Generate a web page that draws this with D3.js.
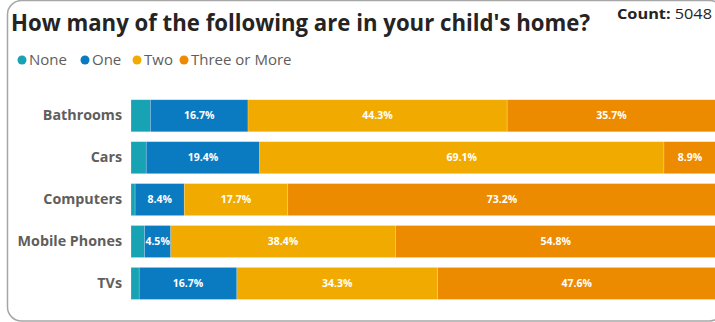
<!DOCTYPE html>
<html>
<head>
<meta charset="utf-8">
<script src="https://cdn.jsdelivr.net/npm/d3@7"></script>
<style>
  body { margin: 0; background: #fff; }
  text { font-family: "Open Sans", "Noto Sans", sans-serif; }
</style>
</head>
<body>
<div id="plot"></div>
<script>
// chart data (percent of respondents)
const categories = ["Bathrooms", "Cars", "Computers", "Mobile Phones", "TVs"];
const seriesNames = ["None", "One", "Two", "Three or More"];
const none = [3.3, 2.6, 0.7, 2.3, 1.4];
const one = [16.7, 19.4, 8.4, 4.5, 16.7];
const two = [44.3, 69.1, 17.7, 38.4, 34.3];
const threeOrMore = [35.7, 8.9, 73.2, 54.8, 47.6];
const count = 5048;

const width = 715, height = 322;

const color = d3.scaleOrdinal()
  .domain(seriesNames)
  .range(["#17A3B4", "#0B7BC1", "#F1AB00", "#EC8B00"]);

const svg = d3.select("#plot")
  .append("svg")
    .attr("width", width)
    .attr("height", height);

// card border
svg.append("rect")
  .attr("x", 7.5).attr("y", 0.5)
  .attr("width", 716).attr("height", 320.5)
  .attr("rx", 14)
  .attr("fill", "none")
  .attr("stroke", "#a6a6a6")
  .attr("stroke-width", 1.5);

// title
svg.append("text")
  .attr("x", 11).attr("y", 31)
  .attr("font-size", 23).attr("font-weight", 700)
  .attr("fill", "#252423")
  .attr("textLength", 579).attr("lengthAdjust", "spacingAndGlyphs")
  .text("How many of the following are in your child's home?");

const cnt = svg.append("text")
  .attr("x", 712).attr("y", 19)
  .attr("text-anchor", "end")
  .attr("font-size", 14)
  .attr("fill", "#252423")
  .attr("textLength", 95).attr("lengthAdjust", "spacingAndGlyphs");
cnt.append("tspan").attr("font-weight", 700).text("Count: ");
cnt.append("tspan").text(count);

// legend
const legendX = [22, 85, 137, 184];
const legend = svg.append("g").selectAll("g")
  .data(seriesNames)
  .join("g")
    .attr("transform", (d, i) => `translate(${legendX[i]}, 60)`);
legend.append("circle").attr("r", 4.5).attr("fill", d => color(d));
legend.append("text")
  .attr("x", 7).attr("dy", "0.35em")
  .attr("font-size", 15)
  .attr("fill", "#605E5C")
  .text(d => d);

// stack the series
const rows = categories.map((c, i) => ({
  category: c,
  "None": none[i], "One": one[i], "Two": two[i], "Three or More": threeOrMore[i]
}));
const stacked = d3.stack().keys(seriesNames)(rows);

const x = d3.scaleLinear().domain([0, 100]).range([131, 716]);
const y = d3.scaleBand()
  .domain(categories)
  .range([94.8, 304.4])
  .paddingInner(0.236)
  .paddingOuter(0.118);

const layers = svg.append("g").selectAll("g")
  .data(stacked)
  .join("g")
    .attr("fill", d => color(d.key));

layers.selectAll("rect")
  .data(d => d)
  .join("rect")
    .attr("x", d => x(d[0]))
    .attr("y", d => y(d.data.category))
    .attr("width", d => x(d[1]) - x(d[0]))
    .attr("height", y.bandwidth())
    .attr("stroke", "#fff")
    .attr("stroke-opacity", 0.35)
    .attr("stroke-width", 0.6);

layers.selectAll("text")
  .data(d => d.filter(s => s[1] - s[0] >= 4))
  .join("text")
    .attr("x", d => (x(d[0]) + x(d[1])) / 2)
    .attr("y", d => y(d.data.category) + y.bandwidth() / 2)
    .attr("dy", "0.35em")
    .attr("text-anchor", "middle")
    .attr("font-size", 10.5)
    .attr("font-weight", 700)
    .attr("fill", "#fff")
    .text(d => (d[1] - d[0]).toFixed(1) + "%");

// category axis
const yAxis = svg.append("g")
  .attr("transform", "translate(131,0)")
  .call(d3.axisLeft(y).tickSize(0).tickPadding(9));
yAxis.select(".domain").remove();
yAxis.selectAll("text")
  .attr("font-family", "'Open Sans', sans-serif")
  .attr("font-size", 14.3)
  .attr("font-weight", 700)
  .attr("fill", "#605E5C");
</script>
</body>
</html>
